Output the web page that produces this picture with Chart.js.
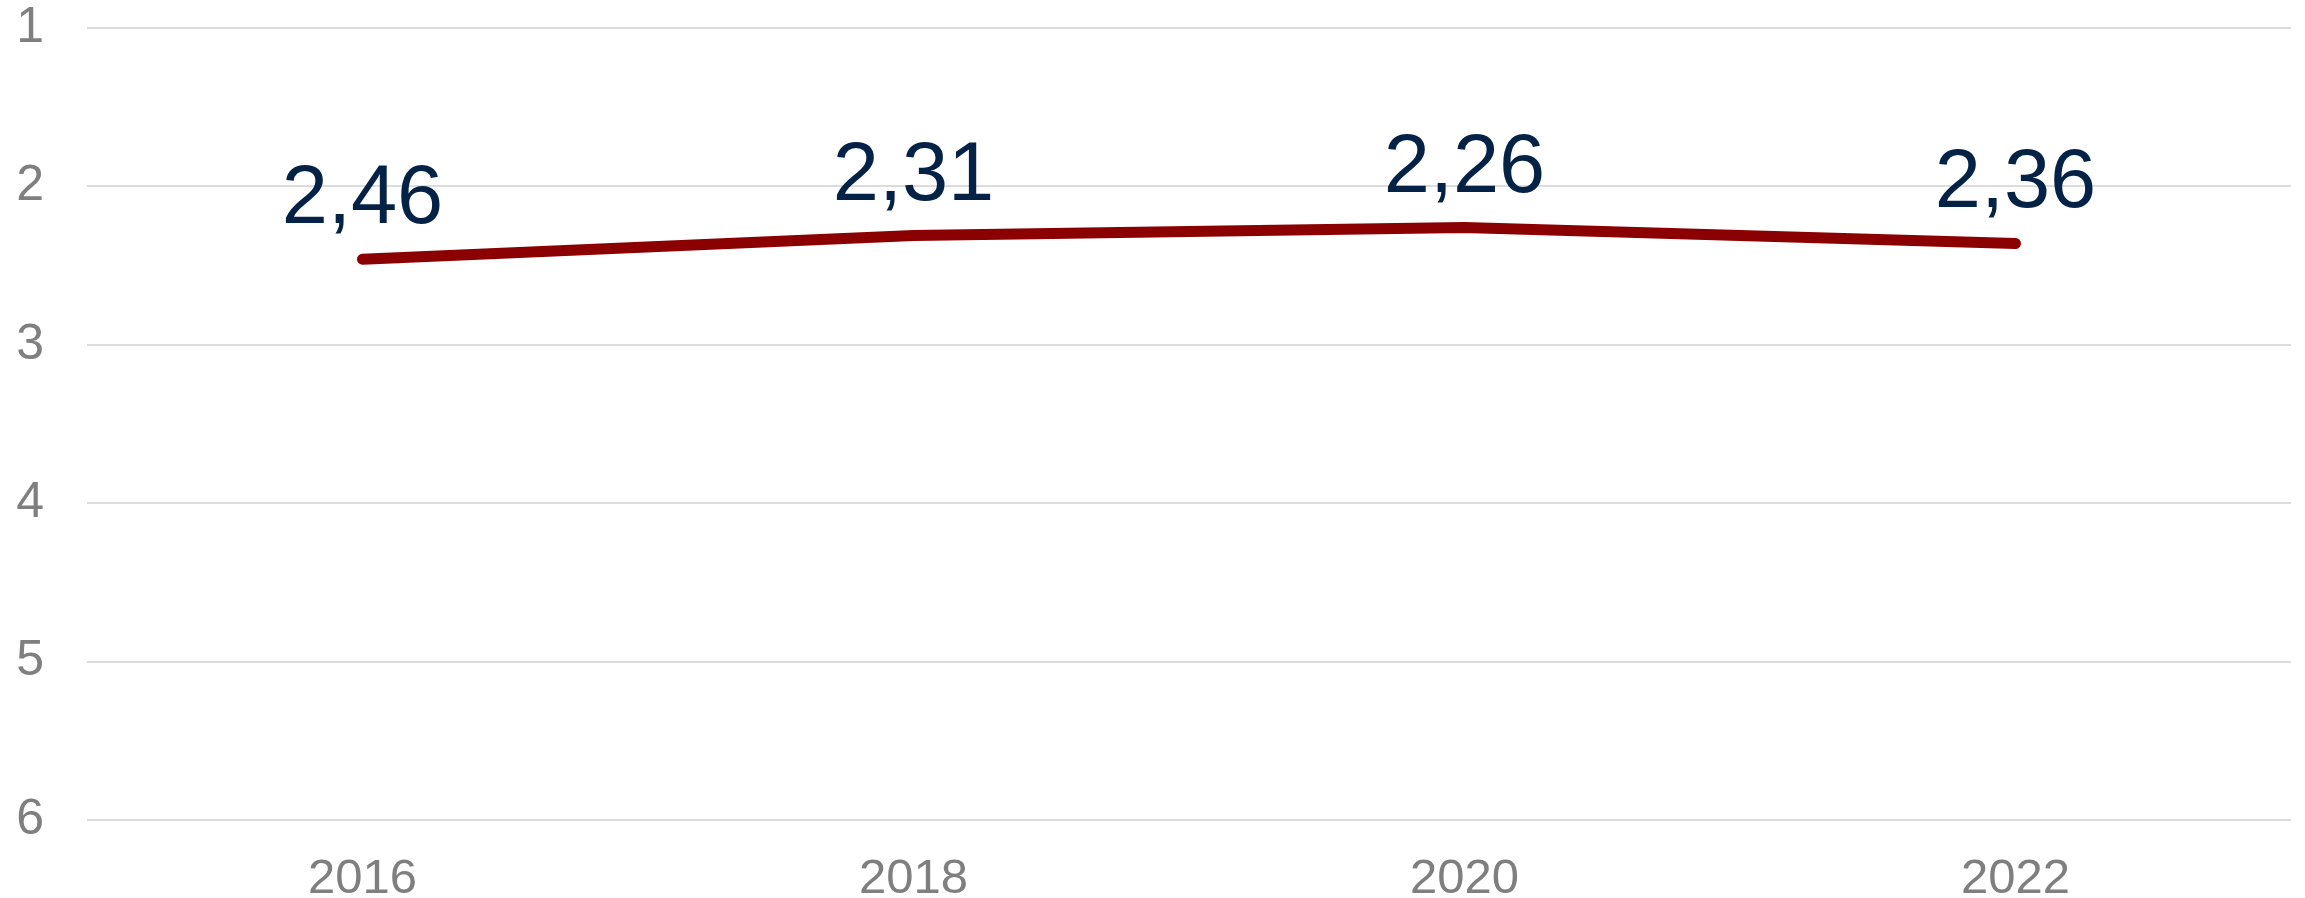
<!DOCTYPE html>
<html>
<head>
<meta charset="utf-8">
<script src="https://cdn.jsdelivr.net/npm/chart.js@4/dist/chart.umd.min.js"></script>
<style>
    html, body { margin: 0; padding: 0; background: #ffffff; }
    #wrap { width: 2305px; height: 898px; }
</style>
</head>
<body>
<div id="wrap"><canvas id="rankChart"></canvas></div>
<script>
const years = ['2016', '2018', '2020', '2022'];
const averageRank = [2.46, 2.31, 2.26, 2.36];
const rankTicks = [1, 2, 3, 4, 5, 6];

// draws the values above the points, with a decimal comma
const valueLabels = {
    id: 'valueLabels',
    afterDatasetsDraw: function (chart) {
        let ctx = chart.ctx;
        let meta = chart.getDatasetMeta(0);
        ctx.save();
        ctx.font = '83px "Liberation Sans", Arial, sans-serif';
        ctx.fillStyle = '#042146';
        ctx.textAlign = 'center';
        ctx.textBaseline = 'alphabetic';
        meta.data.forEach(function (pt, i) {
            let txt = averageRank[i].toFixed(2).replace('.', ',');
            ctx.fillText(txt, pt.x, pt.y - 36);
        });
        ctx.restore();
    }
};

const ctx = document.getElementById('rankChart');
new Chart(ctx, {
    type: 'line',
    data: {
        labels: years,
        datasets: [{
            data: averageRank,
            borderColor: '#8b0000',
            backgroundColor: '#8b0000',
            borderWidth: 11,
            borderCapStyle: 'round',
            borderJoinStyle: 'round',
            tension: 0,
            pointRadius: 0,
            fill: false,
        }]
    },
    plugins: [valueLabels],
    options: {
        responsive: true,
        maintainAspectRatio: false,
        animation: false,
        layout: {
            padding: { top: 28, right: 14, bottom: 0, left: 0 }
        },
        plugins: {
            legend: { display: false },
            tooltip: { enabled: false },
        },
        scales: {
            x: {
                offset: true,
                border: { display: false },
                grid: { display: false, drawTicks: false },
                ticks: {
                    color: '#7f7f7f',
                    padding: 30,
                    font: { family: '"Liberation Sans", Arial, sans-serif', size: 49 },
                },
                afterFit: function (scale) { scale.height = 78; },
            },
            y: {
                reverse: true,
                min: 1,
                max: 6,
                border: { display: false },
                grid: { color: '#dcdcdc', lineWidth: 2, drawTicks: false },
                afterBuildTicks: function (scale) {
                    scale.ticks = rankTicks.map(function (v) { return { value: v }; });
                },
                ticks: {
                    color: '#7f7f7f',
                    padding: 43,
                    font: { family: '"Liberation Sans", Arial, sans-serif', size: 50 },
                },
                afterFit: function (scale) {
                    scale.width = 87;
                    scale.paddingTop = 0;
                    scale.paddingBottom = 0;
                },
            }
        }
    }
});
</script>
</body>
</html>
